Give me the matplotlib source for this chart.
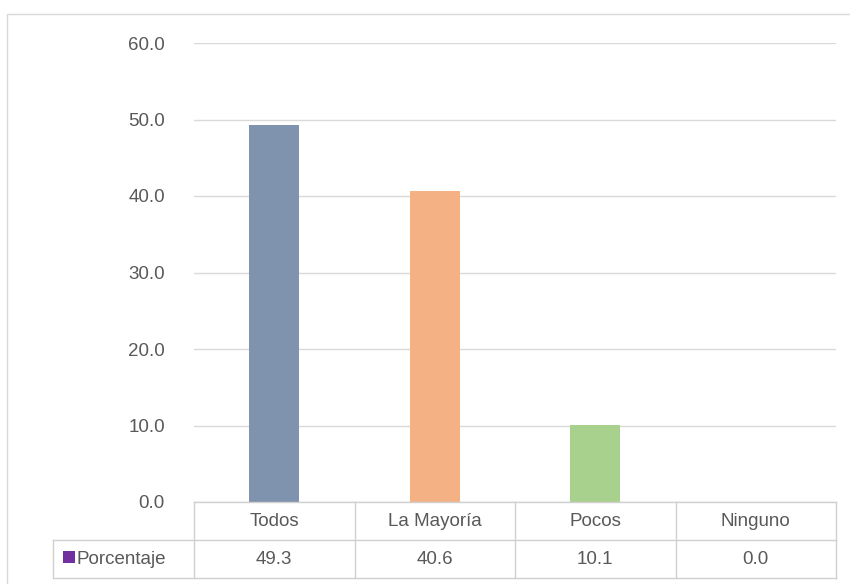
import matplotlib
matplotlib.use("Agg")
import matplotlib.pyplot as plt
from matplotlib.patches import Rectangle
from matplotlib.lines import Line2D

categories = ["Todos", "La Mayoría", "Pocos", "Ninguno"]
values = [49.3, 40.6, 10.1, 0.0]
value_labels = ["49.3", "40.6", "10.1", "0.0"]
series_name = "Porcentaje"
yticks = [0, 10, 20, 30, 40, 50, 60]
bar_colors = ["#7F93AE", "#F4B183", "#A9D18E", "#8FAADC"]
legend_color = "#7030A0"

W, H = 850, 584
plt.rcParams['font.family'] = ['Liberation Sans', 'DejaVu Sans']
fig = plt.figure(figsize=(W / 100, H / 100), dpi=100)
FS = 13.5
TC = "#595959"

def fx(x):
    return x / W

def fy(y):
    return 1 - y / H

left, right, top, bottom = 194, 836, 43, 502
ax = fig.add_axes([fx(left), fy(bottom), fx(right - left), (bottom - top) / H])
ax.set_xlim(-0.5, len(categories) - 0.5)
ax.set_ylim(0, 60)
ax.bar(range(len(categories)), values, width=0.31, color=bar_colors, zorder=3)
ax.set_yticks(yticks)
ax.yaxis.grid(True, color="#D9D9D9", linewidth=1)
ax.set_axisbelow(True)
for s in ax.spines.values():
    s.set_visible(False)
ax.tick_params(axis='y', length=0, pad=21, labelsize=FS, labelcolor=TC)
ax.set_yticklabels([f"{t:.1f}" for t in yticks])
ax.set_xticks([])

# outer chart border
fig.patches.append(Rectangle((fx(7), fy(600)), fx(850 - 7 + 10), (600 - 14) / H,
                             transform=fig.transFigure, fill=False,
                             edgecolor="#D9D9D9", linewidth=1))

# data table
lc = "#D0D0D0"
row1, row2, row3 = 502, 540, 578
head_left = 53
colx = [left + i * (right - left) / len(categories) for i in range(len(categories) + 1)]

def hline(y, x0, x1):
    fig.add_artist(Line2D([fx(x0), fx(x1)], [fy(y), fy(y)], color=lc, linewidth=1))

def vline(x, y0, y1):
    fig.add_artist(Line2D([fx(x), fx(x)], [fy(y0), fy(y1)], color=lc, linewidth=1))

hline(row1, left, right)
hline(row2, head_left, right)
hline(row3, head_left, right)
for x in colx:
    vline(x, row1, row3)
vline(head_left, row2, row3)

for i, cat in enumerate(categories):
    cx = (colx[i] + colx[i + 1]) / 2
    fig.text(fx(cx), fy((row1 + row2) / 2 + 1), cat, ha='center', va='center',
             fontsize=FS, color=TC)
    fig.text(fx(cx), fy((row2 + row3) / 2 + 1), value_labels[i], ha='center', va='center',
             fontsize=FS, color=TC)

fig.patches.append(Rectangle((fx(63), fy(563)), fx(12), 12 / H, transform=fig.transFigure,
                             facecolor=legend_color, edgecolor='none'))
fig.text(fx(76), fy((row2 + row3) / 2 + 1), series_name, ha='left', va='center',
         fontsize=FS, color=TC)

fig.savefig("out.png", dpi=100)
